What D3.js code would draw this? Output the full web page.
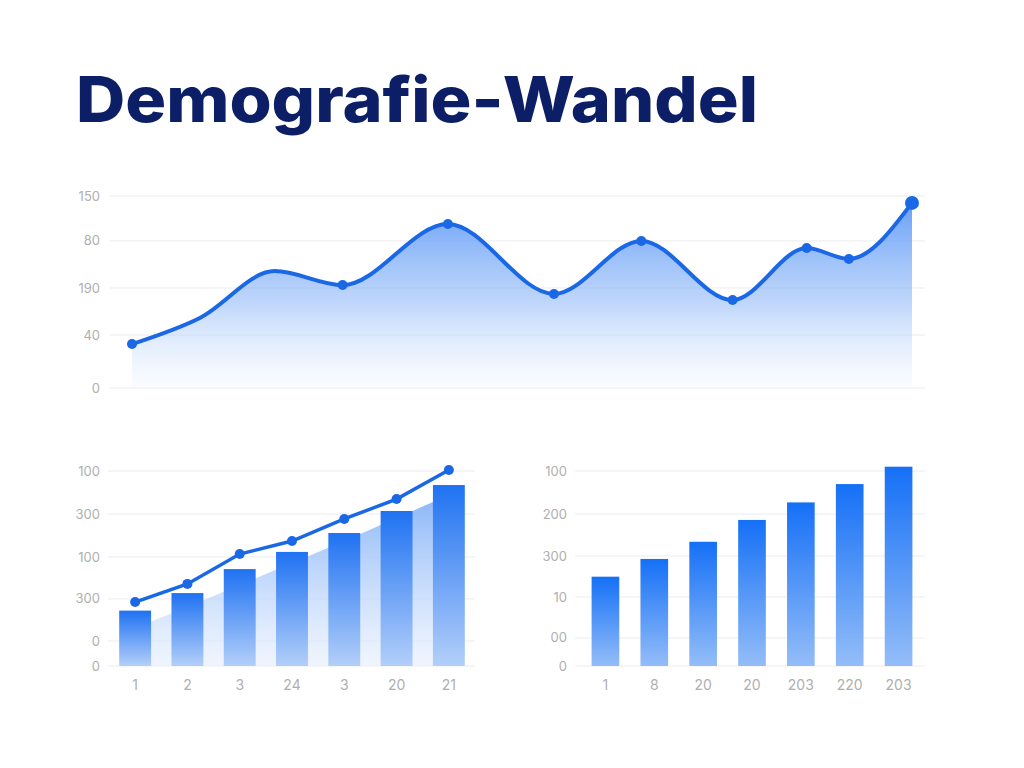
<!DOCTYPE html>
<html>
<head>
<meta charset="utf-8">
<script src="https://cdn.jsdelivr.net/npm/d3@7"></script>
<style>
  body { margin: 0; background: #ffffff; }
  text { font-family: Inter, "Open Sans", "DejaVu Sans", sans-serif; }
</style>
</head>
<body>
<svg id="chart" width="1024" height="768"></svg>
<script>
const title = "Demografie-Wandel";

// top panel: smooth area line
const trendX = [0, 8.7, 18.3, 27, 40.5, 54.1, 65.3, 77, 86.5, 91.9, 100];
const trendY = [22.9, 36.5, 60.9, 53.6, 85.4, 49, 76.6, 45.8, 72.9, 67.2, 96.4];
const trendMarker = [true, false, false, true, true, true, true, true, true, true, true];
const trendTickPos = [0, 27.6, 52.1, 76.6, 100];
const trendTickLabels = ["0", "40", "190", "80", "150"];

// bottom left: bars + line + area
const leftCats = ["1", "2", "3", "24", "3 ", "20", "21"];
const leftBars = [28.4, 37.4, 49.7, 58.5, 68.2, 79.5, 92.8];
const leftLine = [32.8, 42.1, 57.4, 64.1, 75.4, 85.6, 100.5];
const leftArea = [19.5, 30.3, 41.5, 52.8, 64.1, 75.9, 87.7];
const leftTickPos = [0, 12.8, 34.4, 55.9, 77.9, 100];
const leftTickLabels = ["0", "0", "300", "100", "300", "100"];

// bottom right: bars
const rightCats = ["1", "8", "20", "20 ", "203", "220", "203 "];
const rightBars = [45.8, 54.9, 63.7, 74.9, 83.9, 93.3, 102.2];
const rightTickPos = [0, 14.4, 35.4, 56.4, 77.9, 100];
const rightTickLabels = ["0", "00", "10", "300", "200", "100"];

const svg = d3.select("#chart");
const defs = svg.append("defs");

function vGrad(id, stops) {
  const g = defs.append("linearGradient").attr("id", id)
    .attr("x1", 0).attr("y1", 0).attr("x2", 0).attr("y2", 1);
  stops.forEach(s => g.append("stop").attr("offset", s[0])
    .attr("stop-color", s[1]).attr("stop-opacity", s[2]));
}
vGrad("topArea", [[0, "#4f8ff5", 0.85], [0.55, "#8db7f8", 0.55], [1, "#e6effd", 0.2]]);
vGrad("barGrad", [[0, "#1570f6", 1], [1, "#94bdf8", 1]]);
vGrad("barGradL", [[0, "#1f72f2", 1], [1, "#b3cff9", 1]]);
vGrad("leftArea", [[0, "#7eaef7", 0.9], [1, "#e6effd", 0.6]]);

const blue = "#1a68e6";
const tickColor = "#afafaf";
const gridColor = "#ebecef";

// title
svg.append("text")
  .attr("x", 76).attr("y", 122)
  .attr("font-size", 63).attr("font-weight", 800)
  .attr("fill", "#0c1f66")
  .attr("textLength", 682).attr("lengthAdjust", "spacingAndGlyphs")
  .text(title);

function yAxisGrid(g, y, pos, labels, x0, x1, labelX) {
  g.append("g").selectAll("line").data(pos).join("line")
    .attr("x1", x0).attr("x2", x1)
    .attr("y1", d => y(d)).attr("y2", d => y(d))
    .attr("stroke", gridColor).attr("stroke-width", 1);
  g.append("g").selectAll("text").data(pos).join("text")
    .attr("x", labelX).attr("y", d => y(d))
    .attr("dy", "0.35em").attr("text-anchor", "end")
    .attr("font-size", 13).attr("fill", tickColor)
    .text((d, i) => labels[i]);
}

// ---- top panel ----
const topPanel = svg.append("g");
const tx = d3.scaleLinear().domain([0, 100]).range([132, 912]);
const ty = d3.scaleLinear().domain([0, 100]).range([388, 196]);
yAxisGrid(topPanel, ty, trendTickPos, trendTickLabels, 110, 925, 100);

const trend = trendX.map((x, i) => ({ x, y: trendY[i], m: trendMarker[i] }));
topPanel.append("path").datum(trend)
  .attr("fill", "url(#topArea)")
  .attr("d", d3.area().curve(d3.curveMonotoneX)
    .x(d => tx(d.x)).y0(ty(0)).y1(d => ty(d.y)));
topPanel.append("path").datum(trend)
  .attr("fill", "none").attr("stroke", blue).attr("stroke-width", 4)
  .attr("stroke-linejoin", "round")
  .attr("d", d3.line().curve(d3.curveMonotoneX).x(d => tx(d.x)).y(d => ty(d.y)));
topPanel.selectAll("circle").data(trend.filter(d => d.m)).join("circle")
  .attr("cx", d => tx(d.x)).attr("cy", d => ty(d.y))
  .attr("r", (d, i, n) => i === n.length - 1 ? 7 : 5)
  .attr("fill", blue);

// ---- bottom left ----
const bl = svg.append("g");
const lx = d3.scaleBand().domain(leftCats).range([109, 475]).paddingInner(0.39).paddingOuter(0.195);
const ly = d3.scaleLinear().domain([0, 100]).range([666, 471]);
yAxisGrid(bl, ly, leftTickPos, leftTickLabels, 108, 475, 100);

const lc = d => lx(d) + lx.bandwidth() / 2;
bl.append("path").datum(leftArea)
  .attr("fill", "url(#leftArea)")
  .attr("d", d3.area().x((d, i) => lc(leftCats[i])).y0(ly(0)).y1(d => ly(d)));
bl.selectAll("rect").data(leftBars).join("rect")
  .attr("x", (d, i) => lx(leftCats[i])).attr("width", lx.bandwidth())
  .attr("y", d => ly(d)).attr("height", d => ly(0) - ly(d))
  .attr("fill", "url(#barGradL)");
bl.append("path").datum(leftLine)
  .attr("fill", "none").attr("stroke", blue).attr("stroke-width", 3.5)
  .attr("d", d3.line().x((d, i) => lc(leftCats[i])).y(d => ly(d)));
bl.selectAll("circle").data(leftLine).join("circle")
  .attr("cx", (d, i) => lc(leftCats[i])).attr("cy", d => ly(d))
  .attr("r", 5).attr("fill", blue);
bl.append("g").selectAll("text").data(leftCats).join("text")
  .attr("x", d => lc(d)).attr("y", 685).attr("dy", "0.35em")
  .attr("text-anchor", "middle").attr("font-size", 14).attr("fill", tickColor)
  .text(d => d.trim());

// ---- bottom right ----
const br = svg.append("g");
const rx = d3.scaleBand().domain(rightCats).range([581, 923]).paddingInner(0.434).paddingOuter(0.217);
const ry = d3.scaleLinear().domain([0, 100]).range([666, 471]);
yAxisGrid(br, ry, rightTickPos, rightTickLabels, 575, 925, 567);
br.selectAll("rect").data(rightBars).join("rect")
  .attr("x", (d, i) => rx(rightCats[i])).attr("width", rx.bandwidth())
  .attr("y", d => ry(d)).attr("height", d => ry(0) - ry(d))
  .attr("fill", "url(#barGrad)");
br.append("g").selectAll("text").data(rightCats).join("text")
  .attr("x", d => rx(d) + rx.bandwidth() / 2).attr("y", 685).attr("dy", "0.35em")
  .attr("text-anchor", "middle").attr("font-size", 14).attr("fill", tickColor)
  .text(d => d.trim());
</script>
</body>
</html>
